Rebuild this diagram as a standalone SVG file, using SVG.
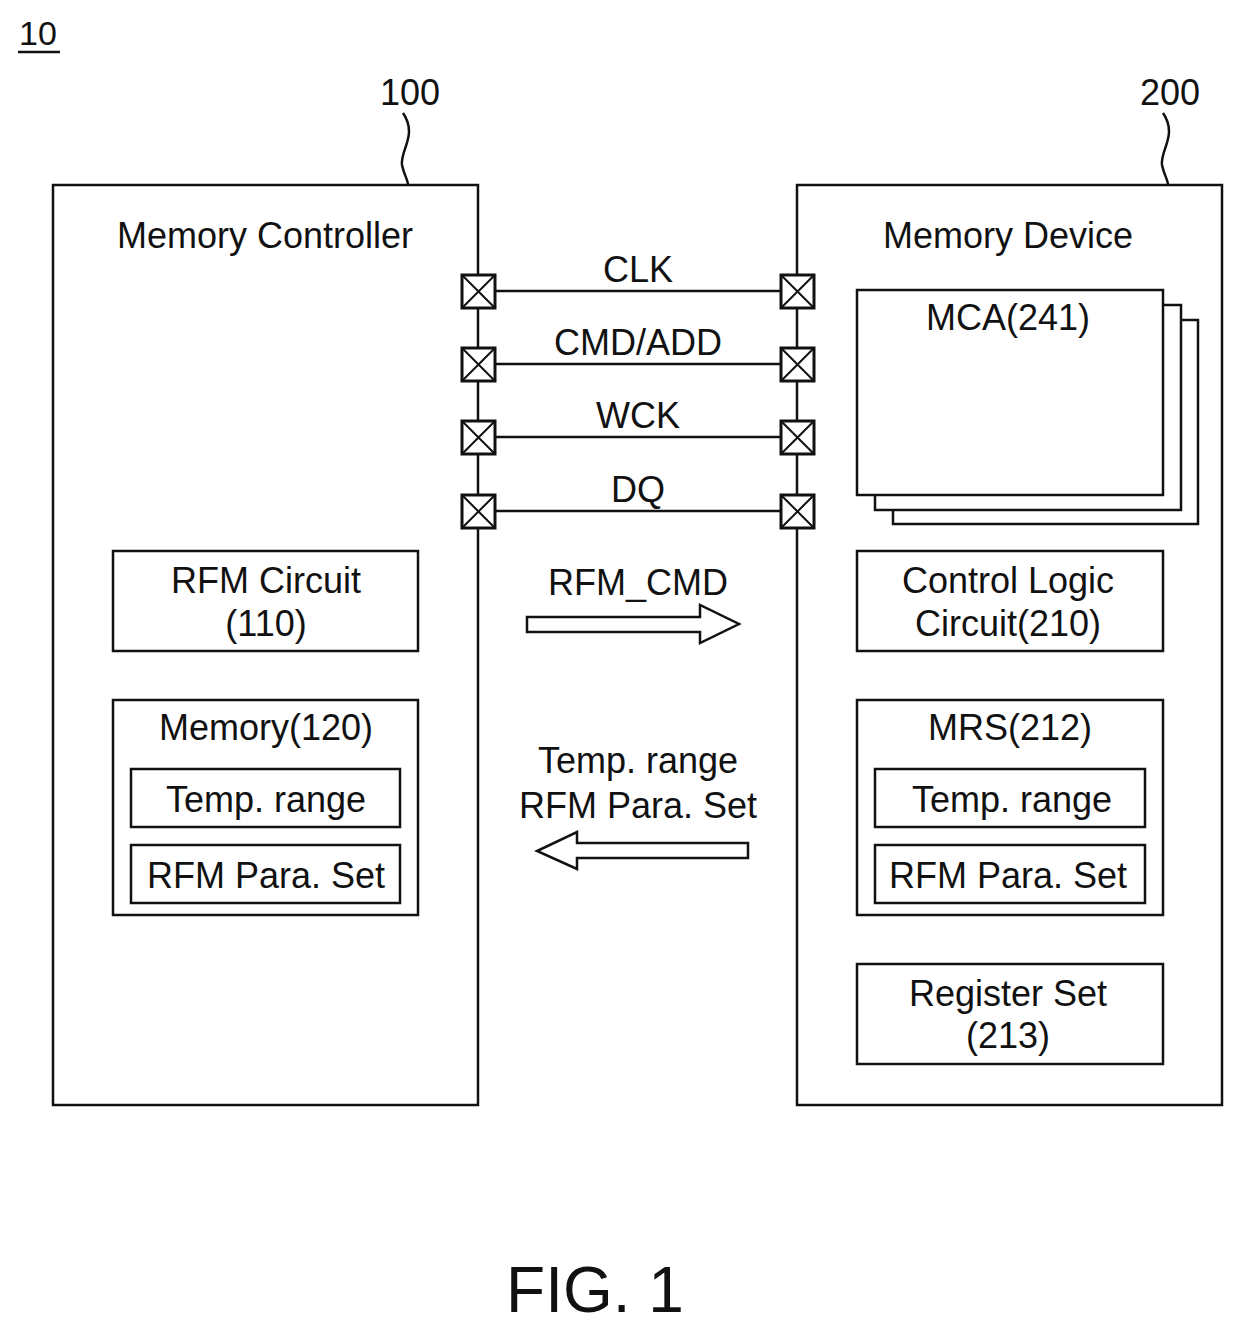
<svg xmlns="http://www.w3.org/2000/svg" width="1240" height="1329" viewBox="0 0 1240 1329">
<style>
text{font-family:"Liberation Sans",Arial,sans-serif;fill:#111;text-anchor:middle}
.t{font-size:36px}
.b{fill:#fff;stroke:#111;stroke-width:2.5}
.l{stroke:#111;stroke-width:2.5;fill:none}
</style>
<defs>
<g id="pad"><rect x="-16" y="-16" width="33" height="33" fill="#fff" stroke="#111" stroke-width="3"/><path d="M-16,-16L17,17M17,-16L-16,17" stroke="#111" stroke-width="2"/></g>
</defs>
<rect width="1240" height="1329" fill="#fff"/>
<text x="38" y="45" style="font-size:34px">10</text>
<line x1="18" y1="52" x2="60" y2="52" class="l"/>
<text x="410" y="105" class="t">100</text>
<text x="1170" y="105" class="t">200</text>
<path d="M403,113 C418,135 400,150 402,165 C404,175 408,180 408,185" class="l"/>
<path d="M1163,113 C1178,135 1160,150 1162,165 C1164,175 1168,180 1168,185" class="l"/>
<g id="controller">
<rect x="53" y="185" width="425" height="920" class="b"/>
<text x="265" y="248" class="t">Memory Controller</text>
</g>
<g id="device">
<rect x="797" y="185" width="425" height="920" class="b"/>
<text x="1008" y="248" class="t">Memory Device</text>
</g>
<g id="mca">
<rect x="893" y="320" width="305" height="204" class="b"/>
<rect x="875" y="305" width="306" height="205" class="b"/>
<rect x="857" y="290" width="306" height="205" class="b"/>
<text x="1008" y="330" class="t">MCA(241)</text>
</g>
<g id="rfm"><rect x="113" y="551" width="305" height="100" class="b"/><text x="266" y="593" class="t">RFM Circuit</text><text x="266" y="636" class="t">(110)</text></g>
<g id="mem"><rect x="113" y="700" width="305" height="215" class="b"/><text x="266" y="740" class="t">Memory(120)</text>
<rect x="131" y="769" width="269" height="58" class="b"/><text x="266" y="812" class="t">Temp. range</text>
<rect x="131" y="845" width="269" height="58" class="b"/><text x="266" y="888" class="t">RFM Para. Set</text></g>
<g id="ctl"><rect x="857" y="551" width="306" height="100" class="b"/><text x="1008" y="593" class="t">Control Logic</text><text x="1008" y="636" class="t">Circuit(210)</text></g>
<g id="mrs"><rect x="857" y="700" width="306" height="215" class="b"/><text x="1010" y="740" class="t">MRS(212)</text>
<rect x="875" y="769" width="270" height="58" class="b"/><text x="1012" y="812" class="t">Temp. range</text>
<rect x="875" y="845" width="270" height="58" class="b"/><text x="1008" y="888" class="t">RFM Para. Set</text></g>
<g id="reg"><rect x="857" y="964" width="306" height="100" class="b"/><text x="1008" y="1006" class="t">Register Set</text><text x="1008" y="1048" class="t">(213)</text></g>
<g id="connectors">
<line x1="478" y1="291" x2="797" y2="291" class="l"/>
<line x1="478" y1="364" x2="797" y2="364" class="l"/>
<line x1="478" y1="437" x2="797" y2="437" class="l"/>
<line x1="478" y1="511" x2="797" y2="511" class="l"/>
<use href="#pad" x="478" y="291"/><use href="#pad" x="797" y="291"/>
<use href="#pad" x="478" y="364"/><use href="#pad" x="797" y="364"/>
<use href="#pad" x="478" y="437"/><use href="#pad" x="797" y="437"/>
<use href="#pad" x="478" y="511"/><use href="#pad" x="797" y="511"/>
<text x="638" y="282" class="t">CLK</text>
<text x="638" y="355" class="t">CMD/ADD</text>
<text x="638" y="428" class="t">WCK</text>
<text x="638" y="502" class="t">DQ</text>
<text x="638" y="595" class="t">RFM_CMD</text>
<path d="M527,617H700V605L739,624L700,643V632H527Z" class="b"/>
<text x="638" y="773" class="t">Temp. range</text>
<text x="638" y="818" class="t">RFM Para. Set</text>
<path d="M748,843H577V832L537,851L577,869V858H748Z" class="b"/>
</g>
<text x="595" y="1312" style="font-size:64px">FIG. 1</text>
</svg>
